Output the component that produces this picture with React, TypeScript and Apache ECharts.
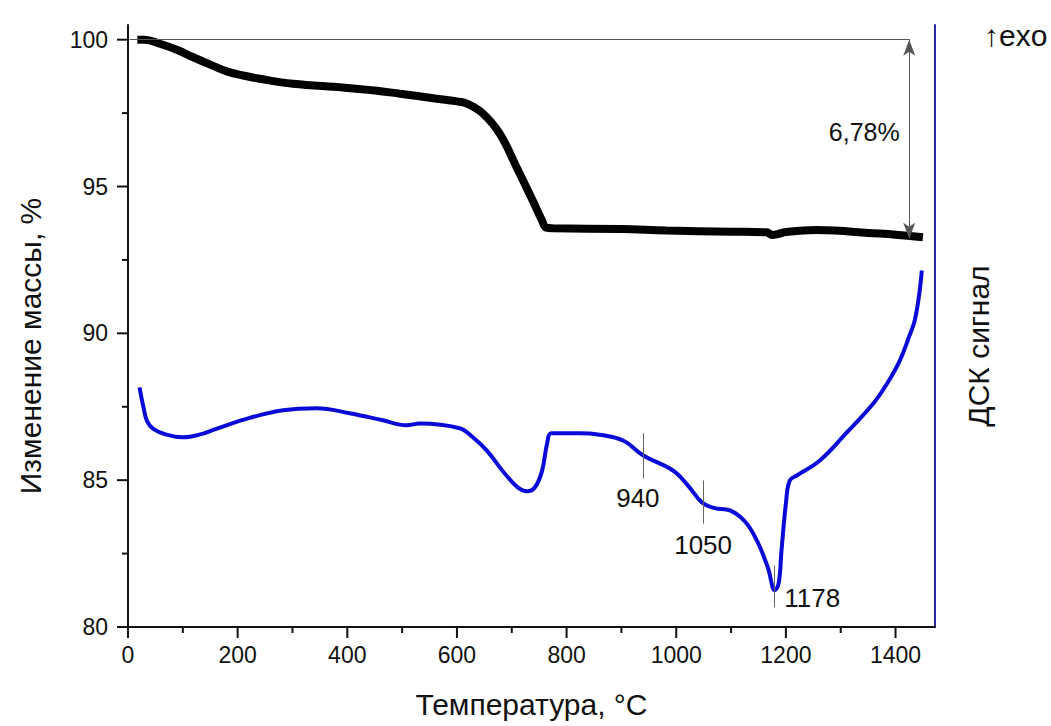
import React, { useEffect, useRef } from "react";
import * as echarts from "echarts";

// Thermogravimetry (mass change, %) vs temperature, °C
const tgData: [number, number][] = [
  [17, 100.0], [30, 100.0], [58, 99.86], [90, 99.65], [118, 99.41], [150, 99.15],
  [180, 98.92], [210, 98.78], [240, 98.67], [301, 98.5], [392, 98.37], [450, 98.27],
  [496, 98.16], [560, 98.0], [600, 97.9], [617, 97.83], [647, 97.49], [678, 96.8],
  [709, 95.65], [738, 94.53], [755, 93.85], [763, 93.6], [775, 93.58], [900, 93.55],
  [982, 93.5], [1100, 93.46], [1165, 93.44], [1175, 93.35], [1185, 93.38], [1200, 93.45],
  [1256, 93.52], [1290, 93.5], [1350, 93.42], [1400, 93.36], [1450, 93.27],
];

// DSC signal (arbitrary units, drawn on the same visual scale)
const dscData: [number, number][] = [
  [21, 88.16], [28, 87.5], [35, 87.0], [46, 86.75], [70, 86.55], [100, 86.46],
  [130, 86.55], [161, 86.75], [222, 87.12], [283, 87.38], [344, 87.45], [404, 87.28],
  [465, 87.04], [508, 86.87], [532, 86.93], [605, 86.77], [629, 86.46], [655, 86.0],
  [678, 85.44], [700, 84.95], [715, 84.7], [728, 84.62], [742, 84.75], [755, 85.3],
  [765, 86.3], [772, 86.6], [824, 86.6], [860, 86.55], [903, 86.35], [940, 85.84],
  [994, 85.33], [1020, 84.85], [1047, 84.24], [1070, 84.05], [1098, 83.97], [1125, 83.6],
  [1147, 82.95], [1167, 82.03], [1180, 81.25], [1187, 81.5], [1192, 82.6], [1200, 84.2],
  [1207, 84.99], [1220, 85.16], [1262, 85.67], [1310, 86.6], [1359, 87.6], [1385, 88.3],
  [1408, 89.08], [1425, 89.9], [1435, 90.44], [1443, 91.3], [1448, 92.14],
];

// Peak annotations: temperature, tick top, tick bottom
const peakTemps = [940, 1050, 1178];
const peakTickTop = [86.6, 84.99, 82.1];
const peakTickBottom = [85.06, 83.52, 80.67];
// Peak label anchor points [T, value, text]
const peakLabels: [number, number, string][] = [
  [930, 84.38, "940"],
  [1049, 82.78, "1050"],
  [1248, 80.98, "1178"],
];

// Mass loss annotation
const massStart = 100;
const massEnd = 93.22;
const massLossText = "6,78%";
const massLabelPos: [number, number] = [1343, 96.84];
const refLineFrom = 3;
const refLineTo = 1426;
const arrowT = 1425;

// Axis ticks
const xTicks = [0, 200, 400, 600, 800, 1000, 1200, 1400];
const xMinorTicks = [100, 300, 500, 700, 900, 1100, 1300];
const yTicks = [80, 85, 90, 95, 100];
const yMinorTicks = [82.5, 87.5, 92.5, 97.5];

const X_MIN = 0;
const X_MAX = 1472;
const Y_MIN = 80;
const Y_MAX = 100.5;

const FONT = "'Liberation Sans', Arial, sans-serif";

// tick specs: [value, axis (0 = x, 1 = y), major (1) / minor (0)]
const tickSpecs: [number, number, number][] = [
  ...xTicks.map((v) => [v, 0, 1] as [number, number, number]),
  ...xMinorTicks.map((v) => [v, 0, 0] as [number, number, number]),
  ...yTicks.map((v) => [v, 1, 1] as [number, number, number]),
  ...yMinorTicks.map((v) => [v, 1, 0] as [number, number, number]),
];

export default function App() {
  const ref = useRef<HTMLDivElement>(null);
  useEffect(() => {
    if (!ref.current) return;
    const chart = echarts.init(ref.current, undefined, { renderer: "svg" });
    chart.setOption({
      animation: false,
      backgroundColor: "#ffffff",
      textStyle: { fontFamily: FONT },
      grid: { left: 128, right: 116, top: 25, bottom: 99 },
      xAxis: {
        type: "value",
        min: X_MIN,
        max: X_MAX,
        interval: 200,
        name: "Температура, °C",
        nameLocation: "middle",
        nameGap: 62,
        nameTextStyle: { fontSize: 30, color: "#111", fontFamily: FONT },
        axisLine: { show: true, lineStyle: { color: "#111", width: 2 } },
        axisTick: { show: false },
        minorTick: { show: false },
        axisLabel: { fontSize: 23, color: "#111", margin: 16, fontFamily: FONT, customValues: xTicks, formatter: (v: number) => String(v) },
        splitLine: { show: false },
      },
      yAxis: [
        {
          type: "value",
          min: Y_MIN,
          max: Y_MAX,
          interval: 5,
          position: "left",
          axisLine: { show: true, lineStyle: { color: "#111", width: 2 } },
          axisTick: { show: false },
          minorTick: { show: false },
          axisLabel: { fontSize: 23, color: "#111", margin: 20, fontFamily: FONT, customValues: yTicks, formatter: (v: number) => String(v) },
          splitLine: { show: false },
        },
        {
          type: "value",
          min: Y_MIN,
          max: Y_MAX,
          interval: 5,
          position: "right",
          axisLine: { show: true, lineStyle: { color: "#2a2aa8", width: 2 } },
          axisTick: { show: false },
          minorTick: { show: false },
          axisLabel: { show: false },
          splitLine: { show: false },
        },
      ],
      series: [
        {
          type: "custom",
          name: "ticks",
          clip: false,
          silent: true,
          z: 10,
          data: tickSpecs,
          encode: { x: 0, y: 1 },
          renderItem: (params: any, api: any) => {
            const v = api.value(0);
            const axis = api.value(1);
            const len = api.value(2) === 1 ? 11 : 6;
            if (axis === 0) {
              const p = api.coord([v, Y_MIN]);
              return {
                type: "line",
                shape: { x1: p[0], y1: p[1], x2: p[0], y2: p[1] + len },
                style: { stroke: "#111", lineWidth: 2 },
              };
            }
            const p = api.coord([X_MIN, v]);
            return {
              type: "line",
              shape: { x1: p[0] - len, y1: p[1], x2: p[0], y2: p[1] },
              style: { stroke: "#111", lineWidth: 2 },
            };
          },
        },
        {
          type: "line",
          name: "TG",
          data: tgData,
          yAxisIndex: 0,
          showSymbol: false,
          smooth: 0.4,
          lineStyle: { color: "#000", width: 8 },
          markLine: {
            silent: true,
            symbol: ["none", "none"],
            label: { show: false },
            lineStyle: { color: "#555", width: 1, type: "solid" },
            data: [
              [{ coord: [refLineFrom, massStart] }, { coord: [refLineTo, massStart] }],
              [
                { coord: [arrowT, massStart], symbol: "arrow", symbolSize: [9, 16] },
                { coord: [arrowT, massEnd], symbol: "arrow", symbolSize: [9, 16] },
              ],
            ],
          },
        },
        {
          type: "line",
          name: "DSC",
          data: dscData,
          yAxisIndex: 0,
          showSymbol: false,
          smooth: 0.4,
          lineStyle: { color: "#0a0ad8", width: 4 },
          markLine: {
            silent: true,
            symbol: ["none", "none"],
            label: { show: false },
            lineStyle: { color: "#666", width: 1, type: "solid" },
            data: peakTemps.map((t, i) => [
              { coord: [t, peakTickTop[i]] },
              { coord: [t, peakTickBottom[i]] },
            ]),
          },
        },
      ],
    });

    const toPx = (p: [number, number]) =>
      chart.convertToPixel({ xAxisIndex: 0, yAxisIndex: 0 }, p) as number[];
    const annTexts = [
      ...peakLabels.map((p) => ({ pos: [p[0], p[1]] as [number, number], text: p[2], size: 26 })),
      { pos: massLabelPos, text: massLossText, size: 25 },
    ];
    chart.setOption({
      graphic: [
        {
          type: "text",
          left: 984,
          top: 20,
          style: { text: "↑exo", fontSize: 30, fill: "#111", fontFamily: FONT },
        },
        {
          type: "text",
          x: 30,
          y: 346,
          rotation: Math.PI / 2,
          style: { text: "Изменение массы, %", fontSize: 30, fill: "#111", fontFamily: FONT, align: "center", verticalAlign: "middle" },
        },
        {
          type: "text",
          x: 978,
          y: 346,
          rotation: Math.PI / 2,
          style: { text: "ДСК сигнал", fontSize: 30, fill: "#111", fontFamily: FONT, align: "center", verticalAlign: "middle" },
        },
        ...annTexts.map((a) => {
          const px = toPx(a.pos);
          return {
            type: "text",
            x: px[0],
            y: px[1],
            z: 10,
            style: { text: a.text, fontSize: a.size, fill: "#111", fontFamily: FONT, align: "center", verticalAlign: "middle" },
          };
        }),
      ],
    });
    return () => chart.dispose();
  }, []);
  return <div ref={ref} style={{ position: "fixed", left: 0, top: 0, width: 1051, height: 726 }} />;
}
